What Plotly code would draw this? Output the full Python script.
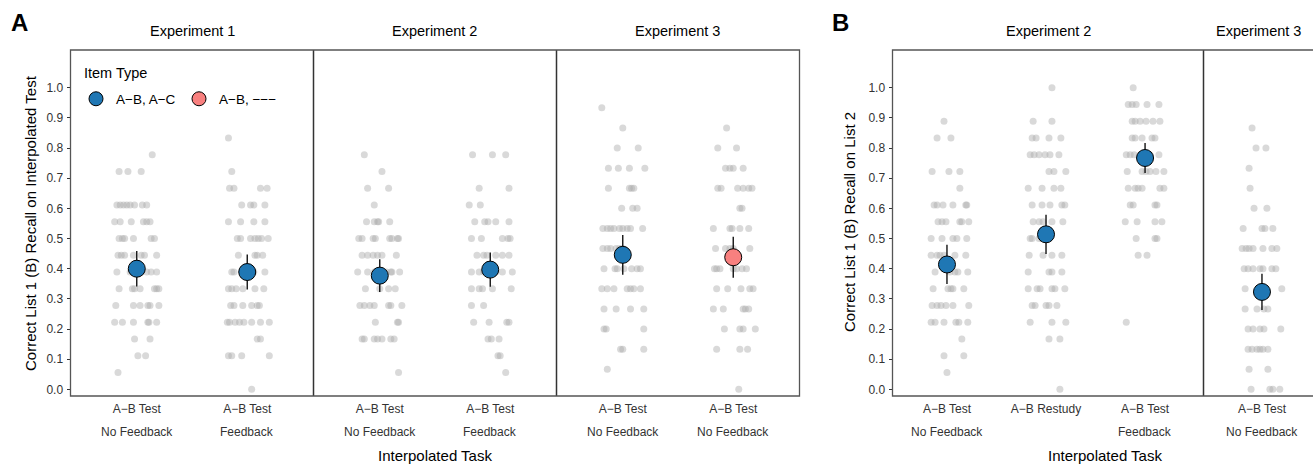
import plotly.graph_objects as go

# ------------------------------------------------------------------ data
# Individual participant scores: {grid level: [horizontal jitter in 1/100 of a category]}
# value = level / grid
a_e1_nf = {1: [-17], 2: [1, 8], 3: [-2, 12], 4: [-20, -13, -3, 10, 11, 18],
           5: [-19, -3, 3, 10, 12, 20], 6: [-16, -4, -2, 3, 16, 18, 20],
           7: [-18, -6, -3, 0, 4, 9, 13, 18], 8: [-17, -14, -11, -3, 4, 7, 18],
           9: [-16, -13, -11, -3, 13, 16], 10: [-20, -15, -5, 6, 9, 12],
           11: [-18, -15, -12, -9, -6, -2, 5, 9], 13: [-16, -8, 4], 14: [14]}
a_e1_f = {0: [4], 2: [-17, -14, -5, 20], 3: [9, 12], 4: [-18, -16, -11, -7, -3, 4, 12, 20],
          5: [-15, -12, -4, 4, 9, 11], 6: [-17, -14, -10, -4, 7, 15],
          7: [-14, -12, 0, 6, 16], 8: [-8, 7, 9, 14], 9: [-9, -6, 3, 7, 10, 13, 19],
          10: [-17, -6, 6, 16], 11: [-5, 3, 6, 16], 12: [-16, -12, 12, 18],
          13: [-14], 15: [-17]}
a_e2_nf = {1: [17], 3: [-16, -14, -5, -2, 2, 10, 13], 4: [-4, 16, 17],
           5: [-18, -14, -9, -5, 8, 10, 20], 6: [-13, 0, 8, 14],
           7: [-20, -11, -5, 6, 10, 11, 18], 8: [-16, -11, -6, -2, 2, 15],
           9: [-19, -16, -6, -4, 9, 11, 16, 17], 10: [-12, -5, -2, -1, 9],
           11: [-5], 12: [-11, 8], 13: [2], 14: [-14]}
a_e2_f = {1: [14], 2: [7, 9], 3: [-2, 1, 8], 4: [-15, -1, 15, 17], 5: [-17, -6],
          6: [-17, -10, -7, 2, 19], 7: [-17, -10, -6, 0, 5, 11, 20],
          8: [-12, -6, -3, 5, 11, 17], 9: [-17, -8, 11, 16, 18],
          10: [-14, -5, -2, 5, 17], 11: [-19, -9], 12: [-10, 17], 14: [-16, 2, 14]}
a_e3_nf = {1: [-14], 2: [-2, 0, 19], 3: [-17, -15, 19], 4: [-17, -6, 7, 19],
           5: [-19, -14, -8, 4, 7, 10, 16], 6: [-17, -7, -5, 1, 8, 13, 16],
           7: [-18, -14, -11, -6, -3, 0], 8: [-18, -14, -11, -8, -3, 0, 4, 7, 18],
           9: [-1, 9, 13], 10: [-13, 6, 8, 10], 11: [-13, -4, 6, 20],
           12: [-5, 14], 13: [0], 14: [-19]}
a_e3_nf_ab = {0: [5], 2: [-15, 6, 13], 3: [-8, 6, 9, 20], 4: [-18, -9, 9, 11, 14],
              5: [-15, -5, 7, 15, 18], 6: [-17, -15, -12, 0, 3, 8, 12],
              7: [-16, -7, -3, 0, 15], 8: [-18, -3, -1, 6, 14], 9: [6, 8],
              10: [-14, -11, 4, 9, 14, 17], 11: [-7, -3, 0, 9], 12: [-14, 3], 13: [-6]}

b_e2_nf = {1: [0], 2: [-3, 17], 3: [15], 4: [-16, -12, -3, 9, 12, 21],
           5: [-15, -10, -6, -1, 6, 22], 6: [-14, 1, 4, 6, 17],
           7: [-12, 3, 8, 11, 21], 8: [-16, -10, -7, -3, 8, 19],
           9: [-16, -5, 6, 10, 20], 10: [-9, -5, -1, 13, 15, 22],
           11: [-13, -10, -4, 6, 19, 20], 12: [13], 13: [-15, 2, 13],
           15: [-10, 4], 16: [-3]}
b_e2_rs = {0: [14], 3: [3, 14], 4: [-16, 6, 20], 5: [-14, -11, 0, 3, 11],
           6: [-18, -9, -6, 6, 9, 19], 7: [-18, 3, 6, 16], 8: [-17, -3, 6, 16],
           9: [-16, -14, -7, -4, 0], 10: [-13, -7, -3, 6, 17],
           11: [-14, -4, 4, 16, 19], 12: [-18, -4, 8, 15], 13: [3, 8, 20],
           14: [-16, -12, -7, -1, 4, 13], 15: [-14, -10, 3, 15], 16: [-13, 6], 18: [6]}
b_e2_f = {4: [-19], 8: [-7, 2], 9: [-9, 10, 12], 10: [-20, -8, 10, 17],
          11: [-15, -12, 10, 12], 12: [-17, -10, -7, -3, 15, 19],
          13: [-18, -3, 1, 5, 11, 19], 14: [-19, -15, -11, -5, 0, 5, 14],
          15: [-13, -10, -3, 7, 10], 16: [-13, -10, -5, 1, 8, 15],
          17: [-17, -13, -9, 2, 14], 18: [-12]}
b_e3_nf = {0: [-11, 8, 11, 18], 1: [-13, 6], 2: [-14, -10, -5, -2, 1, 6],
           3: [-14, -9, -2, 2, 19], 4: [-17, -5, 2, 6], 5: [-17, 0, 20],
           6: [-18, -14, -9, -2, 1, 10, 14], 7: [-20, -16, -13, -9, 1, 10, 15],
           8: [-19, 0, 3, 11], 9: [-8, 5], 10: [-12], 11: [-13], 12: [-6, 4], 13: [-10]}

# facets, categories (tick line 1, tick line 2)
facets_A = ["Experiment 1", "Experiment 2", "Experiment 3"]
facets_B = ["Experiment 2", "Experiment 3"]
cats_A = [[("A−B Test", "No Feedback"), ("A−B Test", "Feedback")],
          [("A−B Test", "No Feedback"), ("A−B Test", "Feedback")],
          [("A−B Test", "No Feedback"), ("A−B Test", "No Feedback")]]
cats_B = [[("A−B Test", "No Feedback"), ("A−B Restudy", ""), ("A−B Test", "Feedback")],
          [("A−B Test", "No Feedback")]]
points_A = [[a_e1_nf, a_e1_f], [a_e2_nf, a_e2_f], [a_e3_nf, a_e3_nf_ab]]
points_B = [[b_e2_nf, b_e2_rs, b_e2_f], [b_e3_nf]]
grid_A = [18, 18, 15]
grid_B = [18, 15]
means_A = [[0.400, 0.389], [0.377, 0.397], [0.446, 0.438]]
err_A = [[0.059, 0.058], [0.054, 0.057], [0.066, 0.068]]
item_A = [["A−B, A−C", "A−B, A−C"], ["A−B, A−C", "A−B, A−C"], ["A−B, A−C", "A−B, −−−"]]
means_B = [[0.414, 0.514, 0.767], [0.323]]
err_B = [[0.065, 0.065, 0.050], [0.060]]
item_B = [["A−B, A−C", "A−B, A−C", "A−B, A−C"], ["A−B, A−C"]]
item_types = ["A−B, A−C", "A−B, −−−"]
y_ticks = [0.0, 0.1, 0.2, 0.3, 0.4, 0.5, 0.6, 0.7, 0.8, 0.9, 1.0]

# ------------------------------------------------------------------ style / layout
W, H = 1313, 464
FONT = "Liberation Sans, Arial, Helvetica, sans-serif"
COLORS = {"A−B, A−C": "#1F77B4", "A−B, −−−": "#F8807F"}
GRAY = "rgba(170,170,170,0.45)"
TXT = "#333333"


def px(x):
    return x / W


def py(y):
    return 1 - y / H


def note(x, y, text, size, color="black", xref="paper", xanchor="center", angle=0):
    return dict(x=x, y=y, xref=xref, yref="paper", text=text, showarrow=False,
                xanchor=xanchor, yanchor="middle", textangle=angle,
                font=dict(size=size, color=color, family=FONT))


# pixel extents of panels
dom_A = [(70.5, 313.5), (313.5, 556.5), (556.5, 799.5)]
rng_A = [(0.4, 2.6), (0.4, 2.6), (0.4, 2.6)]
dom_B = [(892.5, 1203.5), (1203.5, 1313)]
rng_B = [(0.45, 3.59), (0.41, 1.515)]
top, bottom = 50, 396
y_range = [-0.022, 1.125]

fig = go.Figure()
layout = dict(
    width=W, height=H, autosize=False,
    margin=dict(l=0, r=0, t=0, b=0),
    paper_bgcolor="white", plot_bgcolor="white",
    font=dict(family=FONT, color=TXT, size=12),
    showlegend=True,
)
annotations = []
shapes = []

all_facets = []
for i in range(3):
    all_facets.append(dict(panel="A", name=facets_A[i], cats=cats_A[i], pts=points_A[i],
                           grid=grid_A[i], means=means_A[i], err=err_A[i], item=item_A[i],
                           dom=dom_A[i], rng=rng_A[i]))
for i in range(2):
    all_facets.append(dict(panel="B", name=facets_B[i], cats=cats_B[i], pts=points_B[i],
                           grid=grid_B[i], means=means_B[i], err=err_B[i], item=item_B[i],
                           dom=dom_B[i], rng=rng_B[i]))

ydom = [py(bottom), py(top)]
for n, f in enumerate(all_facets):
    xname = "x" if n == 0 else f"x{n + 1}"
    yname = "y" if f["panel"] == "A" else "y2"
    xkey = "xaxis" if n == 0 else f"xaxis{n + 1}"
    idx = list(range(1, len(f["cats"]) + 1))
    layout[xkey] = dict(
        domain=[px(f["dom"][0]), px(f["dom"][1])], range=list(f["rng"]),
        anchor=yname, tickvals=idx, ticktext=[c[0] for c in f["cats"]],
        ticks="", showgrid=False, zeroline=False, showline=False,
        ticklabelstandoff=4,
        tickfont=dict(size=12, color=TXT, family=FONT), fixedrange=True,
    )
    # second tick-label line
    for i, c in zip(idx, f["cats"]):
        if c[1]:
            annotations.append(note(i, py(432), c[1], 12, TXT, xref=xname))
    # strip label
    annotations.append(note(px((f["dom"][0] + f["dom"][1]) / 2), py(31), f["name"], 14.5))
    # jittered individual points
    for i, pts in zip(idx, f["pts"]):
        xs, ys = [], []
        for lvl, offs in pts.items():
            for o in offs:
                xs.append(i + o / 100.0)
                ys.append(lvl / f["grid"])
        fig.add_trace(go.Scatter(x=xs, y=ys, mode="markers", xaxis=xname, yaxis=yname,
                                 marker=dict(size=7, color=GRAY, line=dict(width=0)),
                                 showlegend=False, hoverinfo="skip"))
    # means with error bars
    for i, m, e, it in zip(idx, f["means"], f["err"], f["item"]):
        fig.add_trace(go.Scatter(x=[i], y=[m], mode="markers", xaxis=xname, yaxis=yname,
                                 marker=dict(size=17, color=COLORS[it],
                                             line=dict(color="black", width=1)),
                                 error_y=dict(type="data", array=[e], visible=True,
                                              color="black", thickness=1.3, width=0),
                                 showlegend=False))
    # facet divider
    if n in (1, 2, 4):
        shapes.append(dict(type="line", xref="paper", yref="paper",
                           x0=px(f["dom"][0]), x1=px(f["dom"][0]), y0=py(bottom), y1=py(top),
                           line=dict(color="#333333", width=1.5)))

ytick_text = [f"{v:.1f}" for v in y_ticks]
for ykey, anchor in (("yaxis", "x"), ("yaxis2", "x4")):
    layout[ykey] = dict(domain=ydom, range=y_range, anchor=anchor, tickvals=y_ticks,
                        ticktext=ytick_text, ticks="outside", ticklen=3, tickwidth=1,
                        tickcolor=TXT, showgrid=False, zeroline=False, showline=False,
                        ticklabelstandoff=1,
                        tickfont=dict(size=12, color=TXT, family=FONT), fixedrange=True)

# panel frames
shapes.append(dict(type="rect", xref="paper", yref="paper", x0=px(70.5), x1=px(799.5),
                   y0=py(bottom), y1=py(top), line=dict(color="#555555", width=1.3)))
shapes.append(dict(type="rect", xref="paper", yref="paper", x0=px(892.5), x1=px(1330),
                   y0=py(bottom), y1=py(top), line=dict(color="#555555", width=1.3)))

# axis titles, panel letters, legend title
annotations += [
    note(px(435), py(455), "Interpolated Task", 15),
    note(px(1105), py(455), "Interpolated Task", 15),
    note(px(30), py(223), "Correct List 1 (B) Recall on Interpolated Test", 15, angle=-90),
    note(px(849), py(222), "Correct List 1 (B) Recall on List 2", 15, angle=-90),
    note(px(19), py(23), "<b>A</b>", 24),
    note(px(840), py(23), "<b>B</b>", 24),
    note(px(82), py(73), "Item Type", 14.5, xanchor="left"),
]

# legend entries
for it in item_types:
    fig.add_trace(go.Scatter(x=[None], y=[None], mode="markers", name=it, xaxis="x", yaxis="y",
                             marker=dict(size=14, color=COLORS[it],
                                         line=dict(color="black", width=1))))

layout["legend"] = dict(x=px(76), y=py(99), xanchor="left", yanchor="middle",
                        orientation="h", bgcolor="rgba(0,0,0,0)", borderwidth=0,
                        entrywidth=58, entrywidthmode="pixels",
                        itemsizing="trace", font=dict(size=13.5, color="black", family=FONT))
layout["annotations"] = annotations
layout["shapes"] = shapes
fig.update_layout(**layout)
fig.write_html("out.html")
